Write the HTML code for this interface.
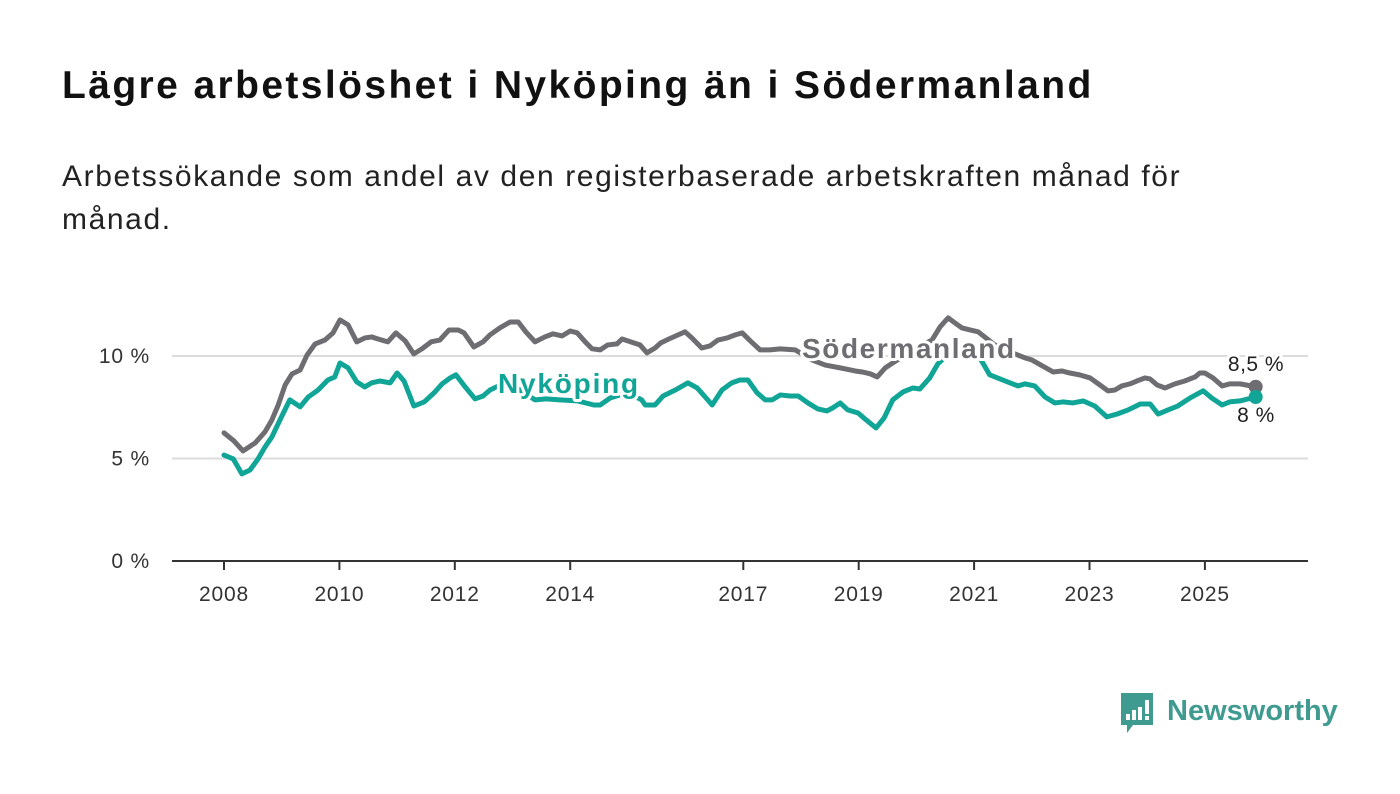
<!DOCTYPE html>
<html><head><meta charset="utf-8">
<style>
html,body{margin:0;padding:0;background:#fff;width:1400px;height:794px;overflow:hidden;font-family:"Liberation Sans","DejaVu Sans",sans-serif;}
#title{position:absolute;left:62px;top:64px;font-size:39px;font-weight:bold;color:#111;margin:0;letter-spacing:2.4px;white-space:nowrap;}
#subtitle{position:absolute;left:62px;top:155px;font-size:30px;color:#222;line-height:43px;width:1200px;margin:0;letter-spacing:1.6px;}
svg{position:absolute;left:0;top:0;}
</style></head><body>
<h1 id="title">Lägre arbetslöshet i Nyköping än i Södermanland</h1>
<p id="subtitle">Arbetssökande som andel av den registerbaserade arbetskraften månad för<br>månad.</p>
<svg id="chart" width="1400" height="794"></svg>
<script>
const yTicks=[0,5,10];
const yTickLabels=["0 %","5 %","10 %"];
const xTicks=[2008,2010,2012,2014,2017,2019,2021,2023,2025];
const soderDates=[2008.00,2008.17,2008.33,2008.54,2008.71,2008.83,2008.94,2009.06,2009.18,2009.32,2009.44,2009.58,2009.75,2009.89,2010.01,2010.15,2010.30,2010.44,2010.56,2010.67,2010.84,2010.98,2011.14,2011.29,2011.43,2011.59,2011.74,2011.90,2012.06,2012.16,2012.33,2012.49,2012.61,2012.78,2012.96,2013.10,2013.23,2013.39,2013.56,2013.70,2013.86,2014.00,2014.12,2014.26,2014.38,2014.52,2014.65,2014.81,2014.90,2015.05,2015.21,2015.33,2015.47,2015.57,2015.71,2015.87,2015.99,2016.11,2016.28,2016.42,2016.56,2016.72,2016.86,2016.98,2017.12,2017.29,2017.46,2017.64,2017.90,2018.19,2018.42,2018.68,2018.94,2019.06,2019.20,2019.32,2019.46,2019.59,2019.89,2020.27,2020.41,2020.55,2020.67,2020.79,2020.93,2021.07,2021.36,2021.62,2021.88,2022.00,2022.18,2022.37,2022.52,2022.66,2022.83,2023.01,2023.18,2023.32,2023.44,2023.56,2023.70,2023.82,2023.96,2024.05,2024.17,2024.31,2024.48,2024.65,2024.83,2024.91,2025.00,2025.14,2025.30,2025.43,2025.61,2025.88];
const soderValues=[6.25,5.86,5.37,5.76,6.30,6.88,7.61,8.59,9.13,9.32,10.05,10.59,10.78,11.13,11.76,11.52,10.69,10.88,10.93,10.83,10.69,11.13,10.74,10.10,10.35,10.69,10.78,11.27,11.27,11.13,10.44,10.69,11.03,11.37,11.66,11.66,11.18,10.69,10.93,11.08,10.98,11.22,11.13,10.69,10.35,10.30,10.54,10.59,10.83,10.69,10.54,10.15,10.39,10.64,10.83,11.03,11.18,10.88,10.39,10.49,10.78,10.88,11.03,11.13,10.74,10.30,10.30,10.35,10.30,9.81,9.56,9.42,9.27,9.22,9.13,8.98,9.42,9.66,10.20,10.78,11.42,11.86,11.61,11.37,11.27,11.18,10.54,10.20,9.91,9.81,9.52,9.22,9.27,9.17,9.08,8.93,8.59,8.30,8.34,8.54,8.64,8.78,8.93,8.88,8.59,8.44,8.64,8.78,8.98,9.17,9.17,8.93,8.54,8.64,8.64,8.5];
const nykDates=[2008.00,2008.16,2008.31,2008.45,2008.59,2008.71,2008.83,2008.97,2009.14,2009.32,2009.46,2009.63,2009.80,2009.92,2010.01,2010.15,2010.30,2010.44,2010.56,2010.70,2010.88,2011.00,2011.12,2011.29,2011.47,2011.64,2011.78,2011.92,2012.02,2012.18,2012.35,2012.49,2012.61,2012.87,2013.13,2013.39,2013.58,2013.82,2014.13,2014.41,2014.52,2014.69,2014.86,2015.07,2015.24,2015.30,2015.47,2015.61,2015.82,2016.04,2016.20,2016.34,2016.46,2016.63,2016.80,2016.94,2017.08,2017.24,2017.38,2017.50,2017.64,2017.81,2017.95,2018.12,2018.29,2018.45,2018.55,2018.68,2018.81,2018.99,2019.13,2019.30,2019.44,2019.59,2019.77,2019.94,2020.06,2020.23,2020.37,2020.50,2020.67,2020.84,2021.10,2021.27,2021.45,2021.62,2021.76,2021.88,2022.05,2022.23,2022.40,2022.54,2022.71,2022.89,2023.09,2023.30,2023.48,2023.67,2023.88,2024.05,2024.19,2024.36,2024.53,2024.74,2024.97,2025.12,2025.30,2025.43,2025.61,2025.88];
const nykValues=[5.17,4.98,4.25,4.44,4.98,5.56,6.05,6.88,7.86,7.52,8.00,8.34,8.83,8.98,9.66,9.42,8.74,8.49,8.69,8.78,8.69,9.17,8.78,7.56,7.76,8.20,8.64,8.93,9.08,8.49,7.91,8.05,8.34,8.69,8.34,7.86,7.91,7.86,7.81,7.61,7.61,7.95,8.10,8.10,7.86,7.61,7.61,8.05,8.34,8.69,8.44,8.00,7.61,8.34,8.69,8.83,8.83,8.20,7.86,7.86,8.10,8.05,8.05,7.71,7.42,7.32,7.47,7.71,7.37,7.22,6.88,6.49,6.98,7.86,8.25,8.44,8.39,8.93,9.61,9.96,10.54,10.30,9.91,9.08,8.88,8.69,8.54,8.64,8.54,8.00,7.71,7.76,7.71,7.81,7.56,7.03,7.17,7.37,7.66,7.66,7.17,7.37,7.56,7.95,8.30,7.95,7.61,7.76,7.81,8.0];

const NS="http://www.w3.org/2000/svg";
const svg=document.getElementById('chart');
const X=t=>224+(t-2008)*57.7;
const Y=v=>561-v*20.5;
function mk(tag,attrs,parent){const e=document.createElementNS(NS,tag);for(const k in attrs)e.setAttribute(k,attrs[k]);(parent||svg).appendChild(e);return e;}

yTicks.forEach((v,i)=>{
  if(v>0){const g=mk('line',{x1:172,x2:1308,y1:Y(v),y2:Y(v),stroke:'#dcdcdc','stroke-width':2});
  
  }
  const t=mk('text',{x:150,y:Y(v)+7,'text-anchor':'end','font-size':21,fill:'#333','letter-spacing':0.8});
  t.textContent=yTickLabels[i];
  
  
});
const ax=mk('line',{x1:172,x2:1308,y1:561,y2:561,stroke:'#333','stroke-width':2});


xTicks.forEach(yr=>{
  const tk=mk('line',{x1:X(yr),x2:X(yr),y1:561,y2:570,stroke:'#333','stroke-width':2});
  
  
  const t=mk('text',{x:X(yr),y:601,'text-anchor':'middle','font-size':21,fill:'#333','letter-spacing':0.8});
  t.textContent=yr;
  
  
});
function series(d,v,color,name){
  const p=mk('polyline',{points:d.map((t,i)=>X(t)+','+Y(v[i])).join(' '),fill:'none',stroke:color,'stroke-width':5,'stroke-linejoin':'round','stroke-linecap':'round'});
  
  
  const n=d.length-1;
  const c=mk('circle',{cx:X(d[n]),cy:Y(v[n]),r:7,fill:color});
  
  
}
series(soderDates,soderValues,'#6e6d71','sodermanland');
series(nykDates,nykValues,'#10a596','nykoping');
function label(txt,x,y,color,name,size,weight,anchor,ls){
  const t=mk('text',{x:x,y:y,'font-size':size,'font-weight':weight,fill:color,stroke:'#fff','stroke-width':6,'paint-order':'stroke','stroke-linejoin':'round','text-anchor':anchor||'start','letter-spacing':ls||0});
  t.textContent=txt;
  
  
}
label('Södermanland',802,358,'#6e6d71','sodermanland-label',28,'bold','start',1.6);
label('Nyköping',498,393,'#10a596','nykoping-label',28,'bold','start',1.8);
const ls=soderValues.length-1, ln=nykValues.length-1;
label(String(soderValues[ls]).replace('.',',')+' %',1256,371,'#222','sodermanland-value-label',21,'normal','middle',0.5);
label(String(nykValues[ln]).replace('.',',')+' %',1256,422,'#222','nykoping-value-label',21,'normal','middle',0.5);

const lg=mk('g',{});


mk('path',{d:'M1121 693 h32 v32 h-20 l-6 8 v-8 h-6 z',fill:'#3f9b90'},lg);
[[1126,714,4,6],[1132,710,4,10],[1138,707,4,13]].forEach(r=>mk('rect',{x:r[0],y:r[1],width:r[2],height:r[3],fill:'#fff'},lg));
mk('rect',{x:1145,y:700,width:4,height:14,fill:'#fff'},lg);
mk('rect',{x:1145,y:716,width:4,height:4,fill:'#fff'},lg);
const lt=mk('text',{x:1167,y:720,'font-size':29,'font-weight':'bold',fill:'#3f9b90'},lg);
lt.textContent='Newsworthy';
</script>
</body></html>
